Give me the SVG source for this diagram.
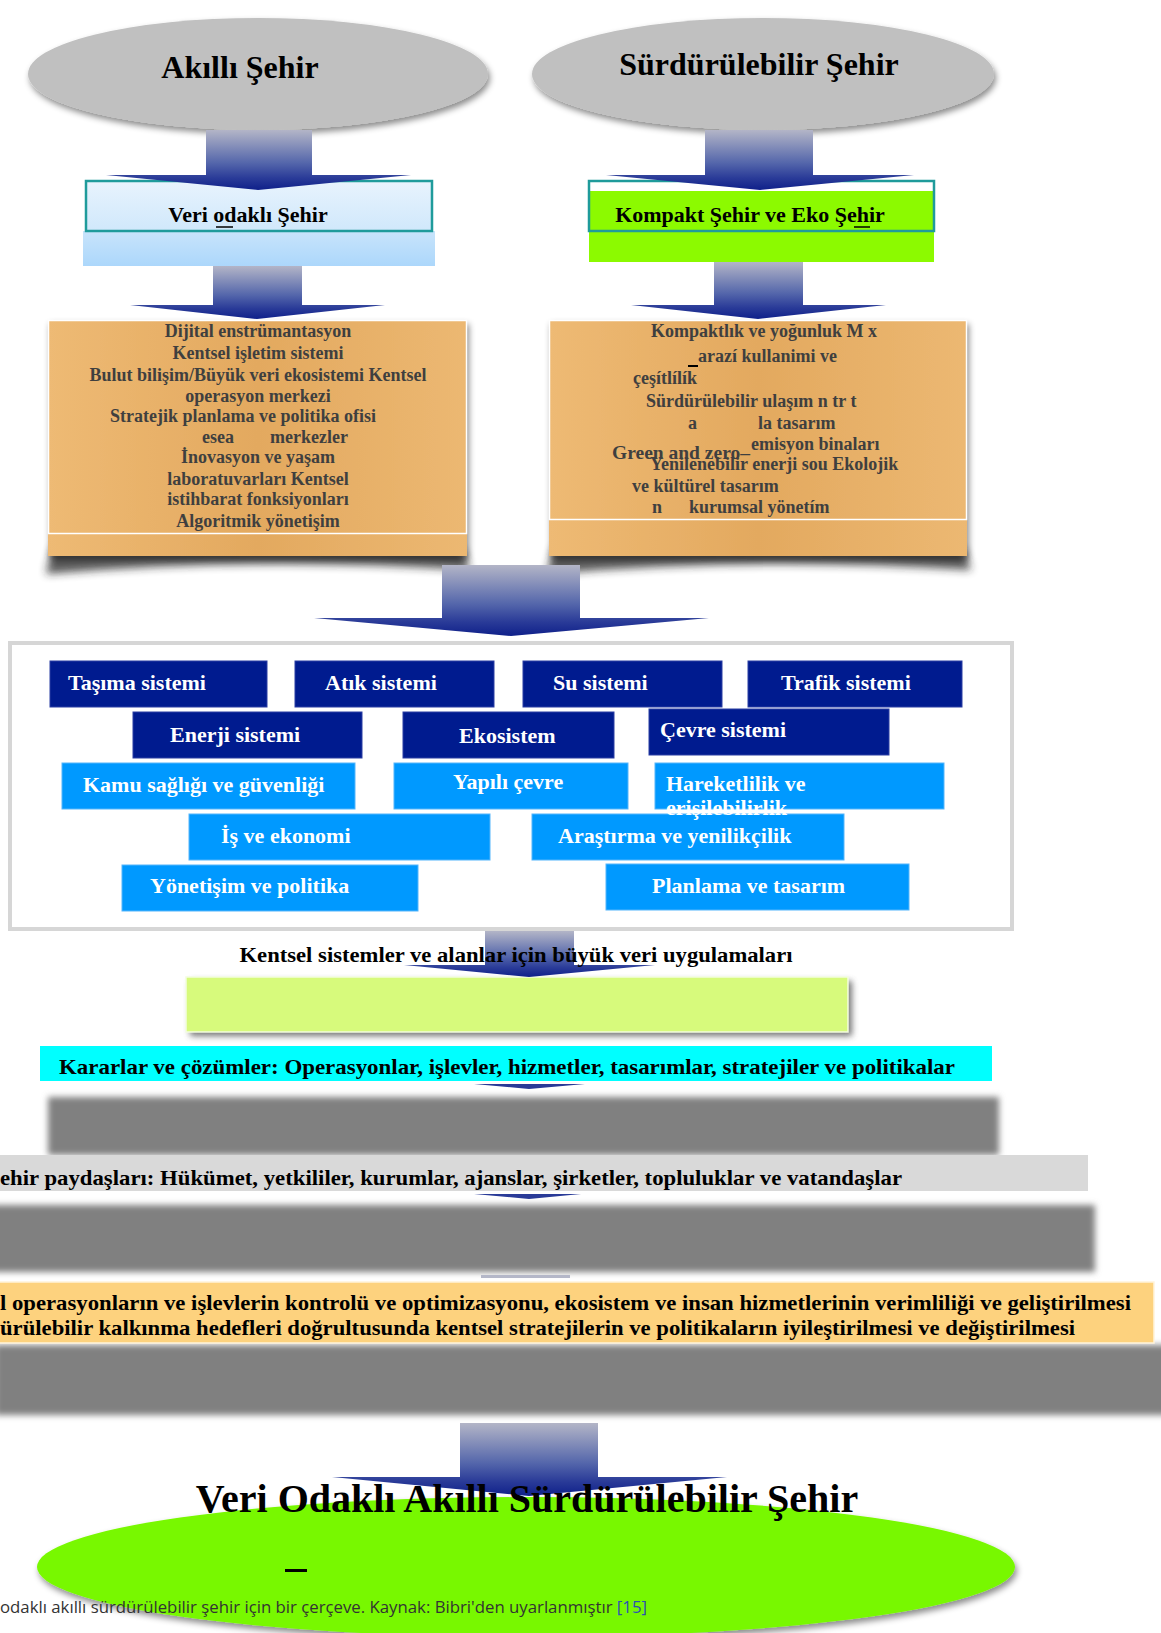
<svg xmlns="http://www.w3.org/2000/svg" width="1161" height="1633" viewBox="0 0 1161 1633">
<style>
.serif{font-family:"Liberation Serif","Times New Roman",serif;font-weight:bold}
.h1{font-size:32px;fill:#000;text-anchor:middle}
.h2{font-size:22px;fill:#000;text-anchor:middle}
.ot{font-size:18px;fill:#3f3f3f}
.mid{text-anchor:middle}
.bt{font-size:22px;fill:#fff}
.dk{fill:#001b8f;stroke:#2a3ea3;stroke-width:1}
.lb{fill:#0099ff;stroke:#55b5fb;stroke-width:1}
.band{font-size:21px;fill:#000}
.org{fill:#e6ae65}
.cap{font-family:"Open Sans","Liberation Sans",sans-serif;font-size:16px;fill:#333}
</style>
<defs>
<linearGradient id="arr" x1="0" y1="0" x2="0" y2="1">
<stop offset="0" stop-color="#b3b5c7"/>
<stop offset="0.55" stop-color="#5466ab"/>
<stop offset="0.8" stop-color="#2a3b98"/>
<stop offset="1" stop-color="#0f208a"/>
</linearGradient>
<linearGradient id="lblue" x1="0" y1="0" x2="0" y2="1">
<stop offset="0" stop-color="#e8f3fd"/>
<stop offset="1" stop-color="#d0e8fb"/>
</linearGradient>
<linearGradient id="lblue2" x1="0" y1="0" x2="0" y2="1">
<stop offset="0" stop-color="#c8e4fb"/>
<stop offset="1" stop-color="#acd7fb"/>
</linearGradient>
<linearGradient id="orgG" x1="0" y1="0" x2="1" y2="0">
<stop offset="0" stop-color="#eeba74"/>
<stop offset="0.5" stop-color="#e3a95f"/>
<stop offset="1" stop-color="#ecb872"/>
</linearGradient>
<filter id="sh" x="-10%" y="-20%" width="120%" height="150%">
<feDropShadow dx="2" dy="4" stdDeviation="3" flood-color="#000" flood-opacity="0.45"/>
</filter>
<filter id="bl" x="-5%" y="-30%" width="110%" height="160%">
<feGaussianBlur stdDeviation="3"/>
</filter>
<filter id="bl5" x="-10%" y="-50%" width="120%" height="200%">
<feGaussianBlur stdDeviation="4"/>
</filter>
</defs>

<g id="node-akilli">
<ellipse cx="258" cy="74" rx="230" ry="56" fill="#c0c0c0" filter="url(#sh)"/>
<text class="serif h1" x="240" y="78">Akıllı Şehir</text>
</g>
<g id="node-surdurulebilir">
<ellipse cx="763" cy="74" rx="231" ry="56" fill="#c0c0c0" filter="url(#sh)"/>
<text class="serif h1" x="759" y="75">Sürdürülebilir Şehir</text>
</g>

<g id="node-veri-odakli">
<rect x="83" y="231" width="352" height="35" fill="url(#lblue2)"/>
<rect x="86" y="181" width="346" height="50" fill="url(#lblue)" stroke="#1f9b9b" stroke-width="2.5"/>
<text class="serif h2" x="248" y="222">Veri odaklı Şehir</text>
<line x1="216" y1="227" x2="233" y2="227" stroke="#000" stroke-width="1.5"/>
</g>
<g id="node-kompakt">
<rect x="589" y="181" width="345" height="81" fill="#8cfa00"/>
<rect x="589" y="181" width="345" height="10" fill="#fff"/>
<rect x="589" y="181" width="345" height="50" fill="none" stroke="#1f9b9b" stroke-width="2.5"/>
<text class="serif h2" x="750" y="222">Kompakt Şehir ve Eko Şehir</text>
<line x1="854" y1="227" x2="870" y2="227" stroke="#000" stroke-width="1.5"/>
</g>

<g id="node-akilli-bilesenler">
<path d="M52,548 L463,548 L470,570 Q258,556 46,574 Z" fill="#222" opacity="0.75" filter="url(#bl5)"/>
<rect x="48" y="320" width="419" height="236" fill="url(#orgG)" filter="url(#sh)"/>
<rect x="48.5" y="320.5" width="418" height="213" fill="none" stroke="#fff" stroke-width="1.5"/>
<g class="serif ot">
<text class="mid" x="258" y="337">Dijital enstrümantasyon</text>
<text class="mid" x="258" y="359">Kentsel işletim sistemi</text>
<text class="mid" x="258" y="381">Bulut bilişim/Büyük veri ekosistemi Kentsel</text>
<text class="mid" x="258" y="402">operasyon merkezi</text>
<text class="mid" x="243" y="422">Stratejik planlama ve politika ofisi</text>
<text x="202" y="443">esea</text>
<text x="270" y="443">merkezler</text>
<text class="mid" x="258" y="463">İnovasyon ve yaşam</text>
<text class="mid" x="258" y="485">laboratuvarları Kentsel</text>
<text class="mid" x="258" y="505">istihbarat fonksiyonları</text>
<text class="mid" x="258" y="527">Algoritmik yönetişim</text>
</g>
</g>

<g id="node-surdurulebilir-bilesenler">
<path d="M553,548 L964,548 L971,570 Q758,556 547,574 Z" fill="#222" opacity="0.75" filter="url(#bl5)"/>
<rect x="549" y="320" width="418" height="236" fill="url(#orgG)" filter="url(#sh)"/>
<rect x="549.5" y="320.5" width="417" height="199" fill="none" stroke="#fff" stroke-width="1.5"/>
<g class="serif ot">
<text x="651" y="337">Kompaktlık ve yoğunluk M x</text>
<text x="698" y="362">arazí kullanimi ve</text>
<text x="633" y="384">çeşítlílík</text>
<text x="646" y="407">Sürdürülebilir ulaşım n tr t</text>
<text x="688" y="429">a</text>
<text x="758" y="429">la tasarım</text>
<text x="751" y="450">emisyon binaları</text>
<text x="612" y="459" style="font-size:19.5px">Green and zero–</text>
<text x="650" y="470">Yenilenebilir enerji sou Ekolojik</text>
<text x="632" y="492">ve kültürel tasarım</text>
<text x="652" y="513">n</text>
<text x="689" y="513">kurumsal yönetím</text>
</g>
<line x1="688" y1="366" x2="698" y2="366" stroke="#000" stroke-width="2"/>
</g>

<g id="node-kentsel-sistemler">
<rect x="10" y="643" width="1002" height="286" fill="#fff" stroke="#d6d6d6" stroke-width="4"/>
<rect class="dk" x="50" y="661" width="217" height="46"/>
<rect class="dk" x="295" y="661" width="199" height="46"/>
<rect class="dk" x="523" y="661" width="199" height="46"/>
<rect class="dk" x="748" y="661" width="214" height="46"/>
<rect class="dk" x="133" y="712" width="229" height="46"/>
<rect class="dk" x="403" y="712" width="211" height="46"/>
<rect class="dk" x="649" y="709" width="240" height="46"/>
<rect class="lb" x="62" y="763" width="293" height="46"/>
<rect class="lb" x="394" y="763" width="234" height="46"/>
<rect class="lb" x="655" y="763" width="289" height="46"/>
<rect class="lb" x="189" y="814" width="301" height="46"/>
<rect class="lb" x="532" y="814" width="312" height="46"/>
<rect class="lb" x="122" y="865" width="296" height="46"/>
<rect class="lb" x="606" y="864" width="303" height="46"/>
<g class="serif bt">
<text x="68" y="690">Taşıma sistemi</text>
<text x="325" y="690">Atık sistemi</text>
<text x="553" y="690">Su sistemi</text>
<text x="781" y="690">Trafik sistemi</text>
<text x="170" y="742">Enerji sistemi</text>
<text x="459" y="743">Ekosistem</text>
<text x="660" y="737">Çevre sistemi</text>
<text x="83" y="792">Kamu sağlığı ve güvenliği</text>
<text x="453" y="789">Yapılı çevre</text>
<text x="666" y="791">Hareketlilik ve</text>
<text x="666" y="815">erişilebilirlik</text>
<text x="221" y="843">İş ve ekonomi</text>
<text x="558" y="843">Araştırma ve yenilikçilik</text>
<text x="150" y="893">Yönetişim ve politika</text>
<text x="652" y="893">Planlama ve tasarım</text>
</g>
</g>

<g id="node-buyuk-veri">
<rect x="190" y="981" width="662" height="55" fill="#555" opacity="0.8" filter="url(#bl)"/>
<rect x="186" y="977" width="662" height="55" fill="#d7fa7c" stroke="#f4fde0" stroke-width="1.5"/>
</g>

<g id="node-kararlar">
<rect x="40" y="1046" width="952" height="35" fill="#00ffff"/>
<text class="serif band" x="59" y="1074" textLength="896" lengthAdjust="spacingAndGlyphs">Kararlar ve çözümler: Operasyonlar, işlevler, hizmetler, tasarımlar, stratejiler ve politikalar</text>
</g>
<g id="node-gri-1">
<rect x="48" y="1097" width="951" height="58" fill="#808080" filter="url(#bl)"/>
</g>
<g id="node-paydaslar">
<rect x="0" y="1155" width="1088" height="36" fill="#d9d9d9"/>
<text class="serif band" x="0" y="1185" textLength="902" lengthAdjust="spacingAndGlyphs">ehir paydaşları: Hükümet, yetkililer, kurumlar, ajanslar, şirketler, topluluklar ve vatandaşlar</text>
</g>
<g id="node-gri-2">
<rect x="-10" y="1205" width="1105" height="67" fill="#808080" filter="url(#bl)"/>
</g>
<g id="node-hedefler">
<rect x="-5" y="1345" width="1175" height="70" fill="#808080" filter="url(#bl)"/>
<rect x="-2" y="1282" width="1156" height="61" fill="#fdd27e" stroke="#fff4dc" stroke-width="1.5"/>
<text class="serif band" x="0" y="1310" textLength="1131" lengthAdjust="spacingAndGlyphs">l operasyonların ve işlevlerin kontrolü ve optimizasyonu, ekosistem ve insan hizmetlerinin verimliliği ve geliştirilmesi</text>
<text class="serif band" x="0" y="1335" textLength="1075" lengthAdjust="spacingAndGlyphs">ürülebilir kalkınma hedefleri doğrultusunda kentsel stratejilerin ve politikaların iyileştirilmesi ve değiştirilmesi</text>
</g>

<g id="node-sonuc-elips">
<ellipse cx="526" cy="1567" rx="489" ry="70" fill="#78f800" filter="url(#sh)"/>
<rect x="285" y="1569" width="22" height="3" fill="#000"/>
</g>

<g id="connectors">
<path d="M206,130 H312 V175 H411 L258,190 L106,175 H206 Z" fill="url(#arr)"/>
<path d="M705,130 H813 V175 H914 L760,190 L606,175 H705 Z" fill="url(#arr)"/>
<path d="M213,266 H302 V305 H385 L257,319 L130,305 H213 Z" fill="url(#arr)"/>
<path d="M714,262 H803 V305 H886 L758,319 L631,305 H714 Z" fill="url(#arr)"/>
<path d="M442,565 H580 V618 H709 L511,636 L314,618 H442 Z" fill="url(#arr)"/>
<path d="M485,931 H574 V965 H655 L529,977 L404,965 H485 Z" fill="url(#arr)"/>
<path d="M474,1084 H585 L529,1089 Z" fill="#2a3b98"/>
<path d="M474,1194 H581 L529,1199 Z" fill="#2a3b98"/>
<rect x="481" y="1275" width="89" height="3" fill="#b4b7c8"/>
<path d="M460,1423 H598 V1477 H727 L529,1496 L332,1477 H460 Z" fill="url(#arr)"/>
</g>

<g id="labels">
<text class="serif h2" x="516" y="962" textLength="553" lengthAdjust="spacingAndGlyphs">Kentsel sistemler ve alanlar için büyük veri uygulamaları</text>
<text class="serif" x="527" y="1512" style="font-size:40px;text-anchor:middle">Veri Odaklı Akıllı Sürdürülebilir Şehir</text>
<text class="cap" x="0" y="1613" textLength="647" lengthAdjust="spacingAndGlyphs">odaklı akıllı sürdürülebilir şehir için bir çerçeve. Kaynak: Bibri'den uyarlanmıştır <tspan fill="#2b50b5">[15]</tspan></text>
</g>
</svg>
